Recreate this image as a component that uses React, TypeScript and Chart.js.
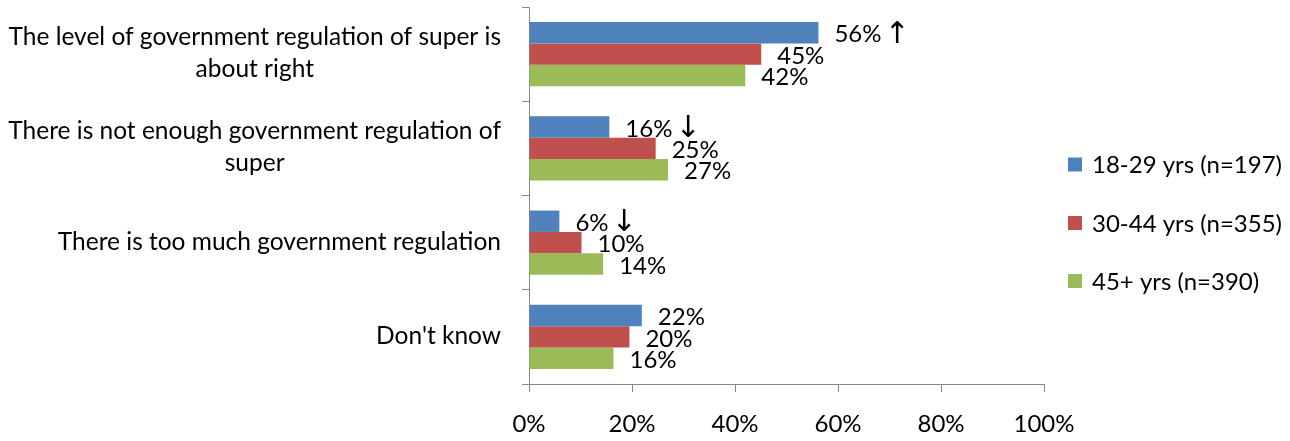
import React, { useEffect, useRef } from 'react';
import { Chart, registerables } from 'chart.js';

Chart.register(...registerables);

const categories: string[][] = [
  ['The level of government regulation of super is', 'about right'],
  ['There is not enough government regulation of', 'super'],
  ['There is too much government regulation'],
  ["Don't know"],
];
const seriesLabels = ['18-29 yrs (n=197)', '30-44 yrs (n=355)', '45+ yrs (n=390)'];
const young = [56.2, 15.6, 5.9, 21.9];
const middle = [45.1, 24.6, 10.2, 19.5];
const older = [42.0, 27.0, 14.4, 16.4];
const youngArrows = ['↑', '↓', '↓', ''];
const middleArrows = ['', '', '', ''];
const olderArrows = ['', '', '', ''];
const xTickValues = [0, 20, 40, 60, 80, 100];
const colors = ['#4F81BD', '#C0504D', '#9BBB59'];

const FONT_FAMILY = 'Lato, "Open Sans", sans-serif';
const CAT_FONT_SIZE = 24.5;
const FONT_SIZE = 24;
const ARROW_FONT_SIZE = 30;
const AXIS_COLOR = '#868686';

export default function App() {
  const ref = useRef<HTMLCanvasElement | null>(null);

  useEffect(() => {
    const canvas = ref.current;
    if (!canvas) return;
    const arrows = [youngArrows, middleArrows, olderArrows];

    const yLabelPlugin = {
      id: 'yLabels',
      afterDraw(chart: any) {
        const ctx = chart.ctx;
        const yScale = chart.scales.y;
        const rightEdge = 501;
        const lineH = 32;
        ctx.save();
        ctx.font = `${CAT_FONT_SIZE}px ${FONT_FAMILY}`;
        ctx.fillStyle = '#000';
        ctx.textAlign = 'center';
        ctx.textBaseline = 'middle';
        categories.forEach((lines, i) => {
          const cy = yScale.getPixelForValue(i) - 1;
          const w = Math.max(...lines.map((l) => ctx.measureText(l).width));
          const cx = rightEdge - w / 2;
          lines.forEach((l, j) => {
            ctx.fillText(l, cx, cy + (j - (lines.length - 1) / 2) * lineH);
          });
        });
        ctx.restore();
      },
    };

    const dataLabelPlugin = {
      id: 'dataLabels',
      afterDatasetsDraw(chart: any) {
        const ctx = chart.ctx;
        ctx.save();
        ctx.fillStyle = '#000';
        ctx.textAlign = 'left';
        ctx.textBaseline = 'middle';
        chart.data.datasets.forEach((ds: any, di: number) => {
          const meta = chart.getDatasetMeta(di);
          meta.data.forEach((el: any, i: number) => {
            const v = ds.data[i];
            const a = arrows[di][i];
            const txt = `${Math.round(v)}%`;
            const x = el.x + 16;
            const y = el.y + 2;
            ctx.font = `${FONT_SIZE}px ${FONT_FAMILY}`;
            ctx.fillText(txt, x, y);
            if (a) {
              const w = ctx.measureText(txt).width;
              ctx.font = `${ARROW_FONT_SIZE}px "DejaVu Sans", sans-serif`;
              ctx.fillText(a, x + w + 3, y);
            }
          });
        });
        ctx.restore();
      },
    };

    const legendPlugin = {
      id: 'customLegend',
      afterDraw(chart: any) {
        const ctx = chart.ctx;
        const boxX = 1068;
        const centers = [164.5, 223, 281];
        ctx.save();
        ctx.font = `${FONT_SIZE}px ${FONT_FAMILY}`;
        ctx.textAlign = 'left';
        ctx.textBaseline = 'middle';
        chart.data.datasets.forEach((ds: any, di: number) => {
          const cy = centers[di];
          ctx.fillStyle = ds.backgroundColor;
          ctx.fillRect(boxX, cy - 7, 14, 14);
          ctx.fillStyle = '#000';
          ctx.fillText(ds.label, boxX + 24, cy + 1);
        });
        ctx.restore();
      },
    };

    const chart = new Chart(canvas, {
      type: 'bar',
      data: {
        labels: categories.map((c) => c.join(' ')),
        datasets: [
          { label: seriesLabels[0], data: young, backgroundColor: colors[0] },
          { label: seriesLabels[1], data: middle, backgroundColor: colors[1] },
          { label: seriesLabels[2], data: older, backgroundColor: colors[2] },
        ],
      },
      options: {
        indexAxis: 'y',
        animation: false,
        responsive: false,
        maintainAspectRatio: false,
        layout: { padding: { top: 7, right: 246, left: 0, bottom: 0 } },
        datasets: { bar: { categoryPercentage: 0.68, barPercentage: 1 } },
        plugins: {
          legend: { display: false },
          tooltip: { enabled: false },
        },
        scales: {
          x: {
            type: 'linear',
            min: 0,
            max: 100,
            afterBuildTicks: (s: any) => {
              s.ticks = xTickValues.map((v) => ({ value: v }));
            },
            ticks: {
              callback: (v: any) => `${v}%`,
              color: '#000',
              font: { family: FONT_FAMILY, size: FONT_SIZE },
              padding: 18,
              maxRotation: 0,
            },
            grid: {
              drawOnChartArea: false,
              drawTicks: true,
              tickLength: 8,
              color: AXIS_COLOR,
            },
            border: { color: AXIS_COLOR, width: 1 },
            afterFit: (s: any) => {
              s.height = 57;
            },
          },
          y: {
            type: 'category',
            ticks: { display: false },
            grid: {
              offset: true,
              drawOnChartArea: false,
              drawTicks: true,
              tickLength: 7,
              color: AXIS_COLOR,
            },
            border: { color: AXIS_COLOR, width: 1 },
            afterFit: (s: any) => {
              s.width = 529;
            },
          },
        },
      },
      plugins: [yLabelPlugin, dataLabelPlugin, legendPlugin],
    } as any);

    return () => chart.destroy();
  }, []);

  return (
    <div style={{ position: 'fixed', left: 0, top: 0, width: 1290, height: 441, background: '#fff' }}>
      <canvas ref={ref} width={1290} height={441} style={{ display: 'block' }} />
    </div>
  );
}
